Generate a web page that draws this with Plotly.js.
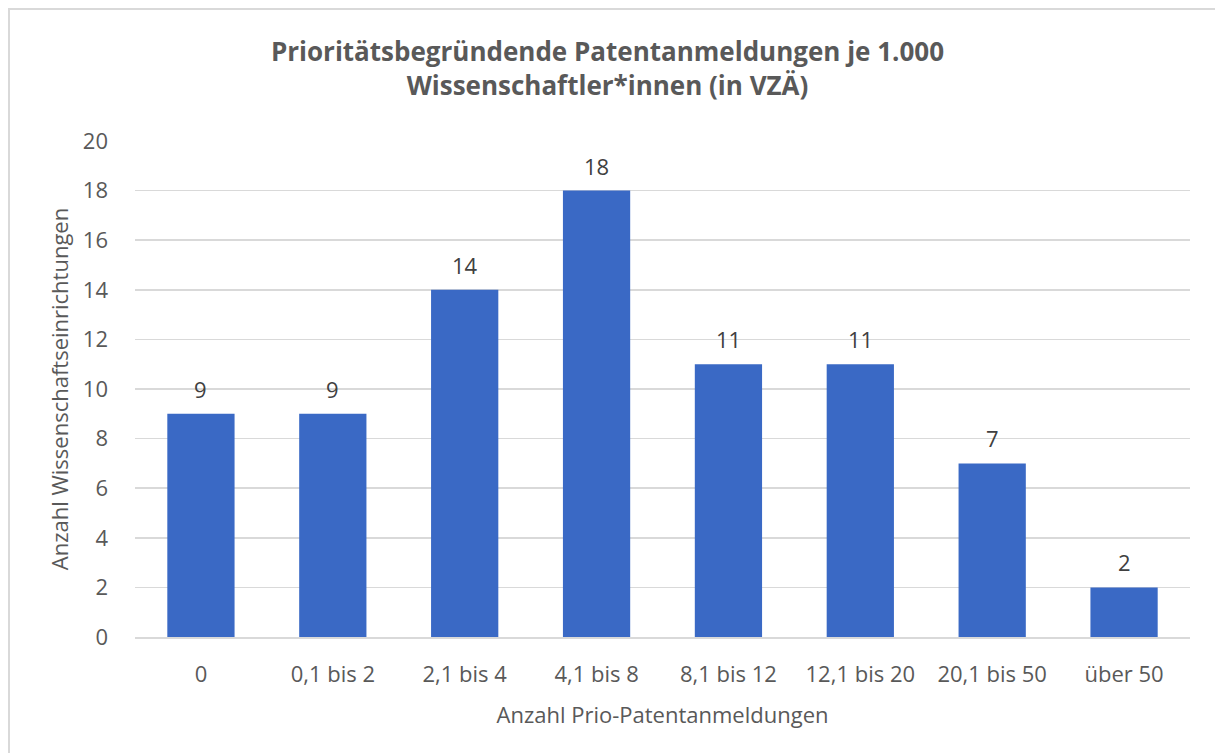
<!DOCTYPE html>
<html>
<head>
<meta charset="utf-8">
<script src="https://cdn.plot.ly/plotly-3.0.1.min.js"></script>
<style>
  html, body { margin: 0; padding: 0; background: #fff; }
  #chart { position: absolute; left: 0; top: 0; width: 1215px; height: 753px; }
  #frame { position: absolute; left: 8px; top: 8px; width: 1215px; height: 753px;
           border-left: 2px solid #d9d9d9; border-top: 2px solid #d9d9d9; pointer-events: none; }
</style>
</head>
<body>
<div id="chart"></div>
<div id="frame"></div>
<script>
// Klassen der Patentanmeldungen je 1.000 VZÄ
const categories = ['0', '0,1 bis 2', '2,1 bis 4', '4,1 bis 8', '8,1 bis 12', '12,1 bis 20', '20,1 bis 50', 'über 50'];
const counts = [9, 9, 14, 18, 11, 11, 7, 2];
const yTicks = [0, 2, 4, 6, 8, 10, 12, 14, 16, 18, 20];

const fontFamily = 'Open Sans, Noto Sans, sans-serif';

const data = [
    {
        x: categories,
        y: counts,
        type: 'bar',
        marker: { color: '#3a69c5' },
        hoverinfo: 'x+y',
    },
];

// Datenbeschriftungen über den Balken
const labels = categories.map((c, i) => ({
    x: c,
    y: counts[i],
    text: String(counts[i]),
    showarrow: false,
    yanchor: 'middle',
    yshift: 25,
    font: { family: fontFamily, size: 22, color: '#404040' },
}));

const layout = {
    width: 1215,
    height: 753,
    margin: { l: 135, r: 25, t: 141, b: 116 },
    paper_bgcolor: 'rgba(0,0,0,0)',
    plot_bgcolor: '#fff',
    bargap: 0.49,
    showlegend: false,
    font: { family: fontFamily, color: '#595959', size: 22 },
    title: {
        text: '<b>Prioritätsbegründende Patentanmeldungen je 1.000<br>Wissenschaftler*innen (in VZÄ)</b>',
        font: { family: fontFamily, size: 26, color: '#595959' },
        x: 0.5,
        xanchor: 'center',
        y: 0.919,
        yanchor: 'middle',
    },
    xaxis: {
        type: 'category',
        title: { text: 'Anzahl Prio-Patentanmeldungen', font: { size: 22, color: '#595959' }, standoff: 20 },
        tickfont: { size: 22, color: '#595959' },
        ticks: '',
        ticklabelstandoff: 17,
        showline: true,
        linecolor: '#d9d9d9',
        linewidth: 2,
        showgrid: false,
    },
    yaxis: {
        range: [0, 20],
        tickvals: yTicks,
        title: { text: 'Anzahl Wissenschaftseinrichtungen', font: { size: 22, color: '#595959' }, standoff: 8 },
        tickfont: { size: 22, color: '#595959' },
        ticks: '',
        ticklabelstandoff: 26,
        gridcolor: '#d9d9d9',
        gridwidth: 1.5,
        zeroline: false,
        showline: false,
        fixedrange: true,
    },
    annotations: labels,
};

Plotly.newPlot('chart', data, layout, { displayModeBar: false, staticPlot: true });
</script>
</body>
</html>
